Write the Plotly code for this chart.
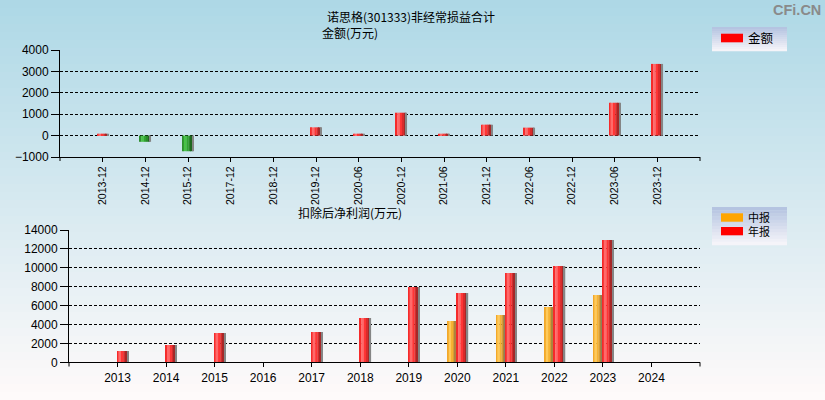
import plotly.graph_objects as go

# ---------------- data ----------------
top_periods = ["2013-12", "2014-12", "2015-12", "2017-12", "2018-12", "2019-12", "2020-06",
               "2020-12", "2021-06", "2021-12", "2022-06", "2022-12", "2023-06", "2023-12"]
top_values = [90, -290, -730, 0, 0, 386, 90, 1070, 90, 512, 372, 0, 1535, 3350]

years = ["2013", "2014", "2015", "2016", "2017", "2018", "2019", "2020", "2021", "2022", "2023", "2024"]
half_values = [None, None, None, None, None, None, None, 4370, 5000, 5850, 7120, None]
annual_values = [1200, 1830, 3100, None, 3200, 4690, 7970, 7330, 9450, 10190, 12940, None]

title_main = "诺思格(301333)非经常损益合计"
title_top = "金额(万元)"
title_bottom = "扣除后净利润(万元)"
legend_top = ["金额"]
legend_bottom = ["中报", "年报"]

# ---------------- style ----------------
W, H = 825, 400
FONT = "Liberation Sans, Arial, Noto Sans CJK SC, sans-serif"
CJK = "Noto Sans CJK SC, Liberation Sans, sans-serif"

def px(x):
    return x / W

def py(y):
    return 1 - y / H

# stripe fractions (left->right) used to fake the cylinder shading
stripe_edges = [0.0, 0.12, 0.35, 0.55, 0.75, 0.9, 1.0]
red_stripes = ["#f52a2a", "#ff6a6a", "#ff3535", "#d82b2b", "#a52828", "#858585"]
green_stripes = ["#2e8f2e", "#48c248", "#30a530", "#2a8a2a", "#1f671f", "#858585"]
orange_stripes = ["#f2a82a", "#ffca5a", "#f6b232", "#d89c34", "#ab843e", "#8f7d5c"]

fig = go.Figure()

def add_striped(x, y, colors_fn, base_offset, width, xa, ya):
    for i in range(len(stripe_edges) - 1):
        f0, f1 = stripe_edges[i], stripe_edges[i + 1]
        fig.add_trace(go.Bar(
            x=x, y=y,
            offset=base_offset + f0 * width,
            width=(f1 - f0) * width + 0.004,
            marker=dict(color=colors_fn(i), line=dict(width=0)),
            xaxis=xa, yaxis=ya, showlegend=False, hoverinfo="x+y",
        ))

# top chart: red for positive, green for negative
add_striped(top_periods, top_values,
            lambda i: [red_stripes[i] if (v or 0) >= 0 else green_stripes[i] for v in top_values],
            -0.13, 0.26, "x", "y")

# bottom chart
add_striped(years, half_values, lambda i: orange_stripes[i], -0.2, 0.2, "x2", "y2")
add_striped(years, annual_values, lambda i: red_stripes[i], -0.01, 0.23, "x2", "y2")

axis_common = dict(
    showline=True, linecolor="black", linewidth=1,
    ticks="outside", tickcolor="black", tickwidth=1, automargin=False,
)
tf12 = dict(family=FONT, size=12, color="black")

fig.update_layout(
    width=W, height=H, autosize=False,
    margin=dict(l=0, r=0, t=0, b=0, pad=0, autoexpand=False),
    paper_bgcolor="#d6e9ef",
    plot_bgcolor="rgba(0,0,0,0)",
    barmode="overlay",
    showlegend=False,
    font=dict(family=FONT, size=12, color="black"),
    xaxis=dict(domain=[px(60), px(700)], anchor="y", type="category", range=[-1, 14],
               tickangle=-90, ticklen=4, showgrid=False, tickfont=dict(family=FONT, size=10.6, color="black"),
               **axis_common),
    yaxis=dict(domain=[py(157), py(50)], anchor="x", range=[-1000, 4000], dtick=1000, tickformat="d",
               ticklen=8, showgrid=True, gridcolor="black", griddash="3px,2px", gridwidth=1,
               zeroline=False, tickfont=tf12, **axis_common),
    xaxis2=dict(domain=[px(69), px(700)], anchor="y2", type="category", range=[-1, 12],
                ticklen=4, showgrid=False, tickfont=tf12, **axis_common),
    yaxis2=dict(domain=[py(362.3), py(230)], anchor="x2", range=[0, 14000], dtick=2000, tickformat="d",
                ticklen=8, showgrid=True, gridcolor="black", griddash="3px,2px", gridwidth=1,
                zeroline=False, tickfont=tf12, **axis_common),
)

shapes = []
# background vertical gradient lightblue -> snow
c0 = (173, 216, 230)
c1 = (255, 250, 250)
N = 50
for i in range(N):
    t = (i + 0.5) / N
    c = tuple(round(c0[k] + (c1[k] - c0[k]) * t) for k in range(3))
    shapes.append(dict(type="rect", xref="paper", yref="paper", layer="below",
                       x0=0, x1=1, y0=1 - i / N, y1=1 - (i + 1) / N - 0.001,
                       fillcolor="rgb(%d,%d,%d)" % c, line=dict(width=0)))

# axis end ticks
for (x, y0, y1) in [(60, 157, 161), (700, 157, 161), (69, 362.3, 366.5), (700, 362.3, 366.5)]:
    shapes.append(dict(type="line", xref="paper", yref="paper", x0=px(x), x1=px(x),
                       y0=py(y0), y1=py(y1), line=dict(color="black", width=1)))

# legend boxes with gradient
def legend_box(x0, x1, y0, y1):
    g0 = (178, 194, 224)
    g1 = (248, 246, 250)
    n = 12
    for i in range(n):
        t = (i + 0.5) / n
        c = tuple(round(g0[k] + (g1[k] - g0[k]) * t) for k in range(3))
        ya = y0 + (y1 - y0) * i / n
        yb = y0 + (y1 - y0) * (i + 1) / n
        shapes.append(dict(type="rect", xref="paper", yref="paper", layer="above",
                           x0=px(x0), x1=px(x1), y0=py(ya), y1=py(yb + 0.3),
                           fillcolor="rgb(%d,%d,%d)" % c, line=dict(width=0)))

legend_box(712, 787, 27, 51)
legend_box(712, 787, 207, 245)

def swatch(y0, y1, color):
    shapes.append(dict(type="rect", xref="paper", yref="paper", layer="above",
                       x0=px(721), x1=px(743), y0=py(y0), y1=py(y1),
                       fillcolor=color, line=dict(width=0)))

swatch(33.7, 42.3, "#ff0000")
swatch(213.3, 221.7, "#ffa500")
swatch(227, 235.3, "#ff0000")

annotations = []

def text(x, y, s, size=12, color="black", family=CJK, xanchor="center", bold=False, align="center"):
    annotations.append(dict(xref="paper", yref="paper", x=px(x), y=py(y),
                            text=("<b>%s</b>" % s) if bold else s,
                            showarrow=False, xanchor=xanchor, yanchor="middle", borderpad=0, align=align,
                            font=dict(family=family, size=size, color=color)))

text(411, 16.5, title_main, size=12)
text(349.5, 32.5, title_top, size=12)
text(350, 212.5, title_bottom, size=12)
text(822, 9.5, "CFi.CN", size=14.5, color="#8a8a8a", family="Liberation Sans, Arial, sans-serif",
     xanchor="right", bold=True)
text(747, 38, legend_top[0], size=12.5, xanchor="left")
text(747, 224.4, "<br>".join(legend_bottom), size=11, xanchor="left", align="left")

fig.update_layout(shapes=shapes, annotations=annotations)

fig.write_html("out.html", config={"displayModeBar": False},
               post_script="document.body.style.margin='0px';")
